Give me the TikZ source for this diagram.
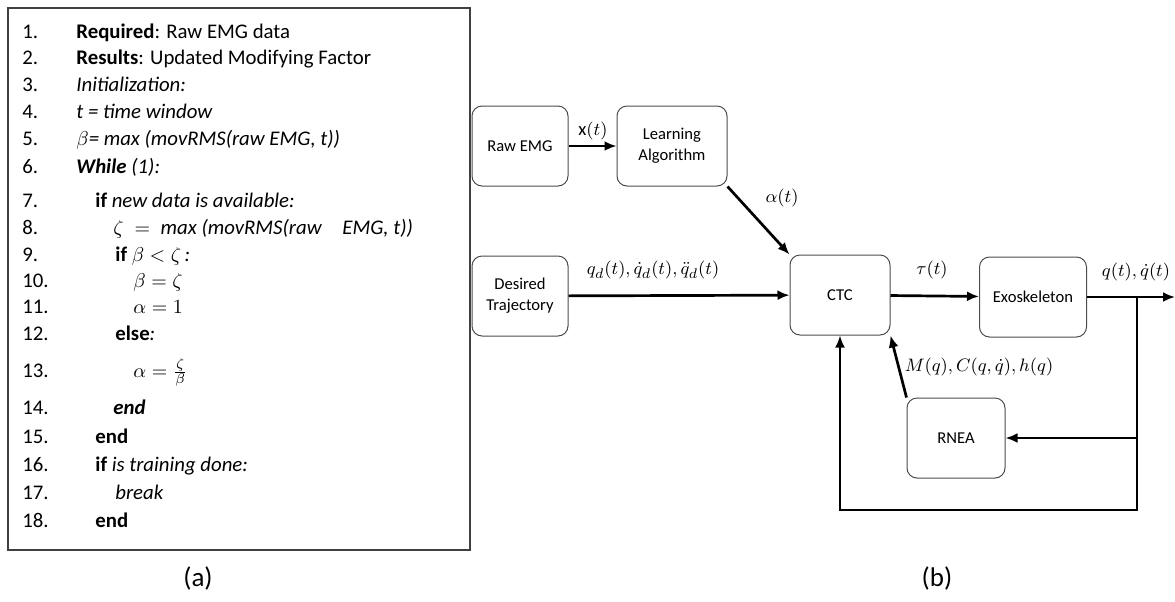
\documentclass[tikz,border=0pt]{standalone}
\usepackage{fontspec}
\setmainfont{Carlito}
\usetikzlibrary{arrows.meta}

\newcommand{\algfont}{\fontsize{10.4}{12}\selectfont}
\newcommand{\boxfont}{\fontsize{8.3}{10.5}\selectfont}

\begin{document}
\begin{tikzpicture}[x=0.5pt, y=-0.5pt]
    % Define styles
    \tikzstyle{lineno} = [anchor=base west, inner sep=0pt, font=\algfont]
    \tikzstyle{algline} = [anchor=base west, inner sep=0pt, font=\algfont]
    \tikzstyle{block} = [draw=black!70, line width=0.5pt, rounded corners=5pt, minimum width=48pt, minimum height=40pt, align=center, font=\boxfont]
    \tikzstyle{arrow} = [->, >={Latex[length=6pt,width=5pt]}, line width=1.35pt]
    \tikzstyle{siglabel} = [font=\fontsize{9.3}{11}\selectfont, inner sep=1pt]
    \tikzstyle{caption} = [font=\fontsize{13.5}{15}\selectfont]

    \useasboundingbox (0,0) rectangle (1175,601);

    % Algorithm frame (a)
    \draw[black!75, line width=0.7pt] (8,8) rectangle (470,550);

    % Line numbers (baselines)
    \foreach \i/\y in {1/38,2/64,3/91,4/118,5/145,6/173,7/207,8/234,9/261,10/287,11/313,12/340,13/377,14/414,15/443,16/471,17/499,18/527}
        \node[lineno] (n\i) at (22,\y) {\i.};

    % Algorithm lines
    \node[algline] (l1) at (76,38) {\textbf{Required}: Raw EMG data};
    \node[algline] (l2) at (76,64) {\textbf{Results}: Updated Modifying Factor};
    \node[algline] (l3) at (76,91) {\textit{Initialization:}};
    \node[algline] (l4) at (76,118) {\textit{t = time window}};
    \node[algline] (l5) at (76,145) {\textit{$\beta$= max (movRMS(raw EMG, t))}};
    \node[algline] (l6) at (76,173) {\textbf{\textit{While}} \textit{(1):}};
    \node[algline] (l7) at (95,207) {\textbf{if} \textit{new data is available:}};
    \node[algline] (l8) at (113,234) {$\zeta\;=$\enspace\textit{max (movRMS(raw\quad EMG, t))}};
    \node[algline] (l9) at (115,261) {\textbf{if} $\beta < \zeta$\,\textit{:}};
    \node[algline] (l10) at (133,287) {$\beta = \zeta$};
    \node[algline] (l11) at (133,313) {$\alpha = 1$};
    \node[algline] (l12) at (115,340) {\textbf{else}\textit{:}};
    \node[algline] (l13) at (133,377) {$\alpha = \frac{\zeta}{\beta}$};
    \node[algline] (l14) at (113,414) {\textbf{\textit{end}}};
    \node[algline] (l15) at (95,443) {\textbf{end}};
    \node[algline] (l16) at (95,471) {\textbf{if} \textit{is training done:}};
    \node[algline] (l17) at (115,499) {\textit{break}};
    \node[algline] (l18) at (95,527) {\textbf{end}};

    % Blocks of the control scheme (b)
    \node[block] (raw) at (520,146) {Raw EMG};
    \node[block, minimum width=55pt] (learn) at (672,146) {Learning\\Algorithm};
    \node[block] (desired) at (520,296) {Desired\\Trajectory};
    \node[block, minimum width=50pt] (ctc) at (840,295) {CTC};
    \node[block, minimum width=53.5pt] (exo) at (1033,297) {Exoskeleton};
    \node[block, minimum width=49pt] (rnea) at (956,438) {RNEA};

    % Helper points
    \coordinate (out) at (1175,297);
    \coordinate (branch) at (1137,297);
    \coordinate (fb) at (1137,510);

    % Signal arrows
    \draw[arrow] (raw) -- (learn);
    \draw[arrow] (learn.south east) -- (ctc.north west);
    \draw[arrow] (desired) -- (ctc);
    \draw[arrow] (ctc) -- (exo);
    \draw[arrow] (exo.east |- out) -- (out);
    \draw[arrow] (branch |- rnea) -- (rnea);
    \draw[arrow] (branch) -- (fb) -| (ctc.south);
    \draw[arrow] (rnea.north west) -- (ctc.south east);

    % Signal labels
    \node[siglabel] (xlab) at (593,131) {x$(t)$};
    \node[siglabel] (alab) at (782,198) {$\alpha(t)$};
    \node[siglabel] (qdlab) at (653,270) {$q_d(t),\dot{q}_d(t),\ddot{q}_d(t)$};
    \node[siglabel] (taulab) at (932,270) {$\tau(t)$};
    \node[siglabel] (qlab) at (1136,272) {$q(t),\dot{q}(t)$};
    \node[siglabel] (mlab) at (979,367) {$M(q),C(q,\dot{q}),h(q)$};

    % Captions
    \node[caption] (capa) at (198,578) {(a)};
    \node[caption] (capb) at (937,578) {(b)};
\end{tikzpicture}
\end{document}
